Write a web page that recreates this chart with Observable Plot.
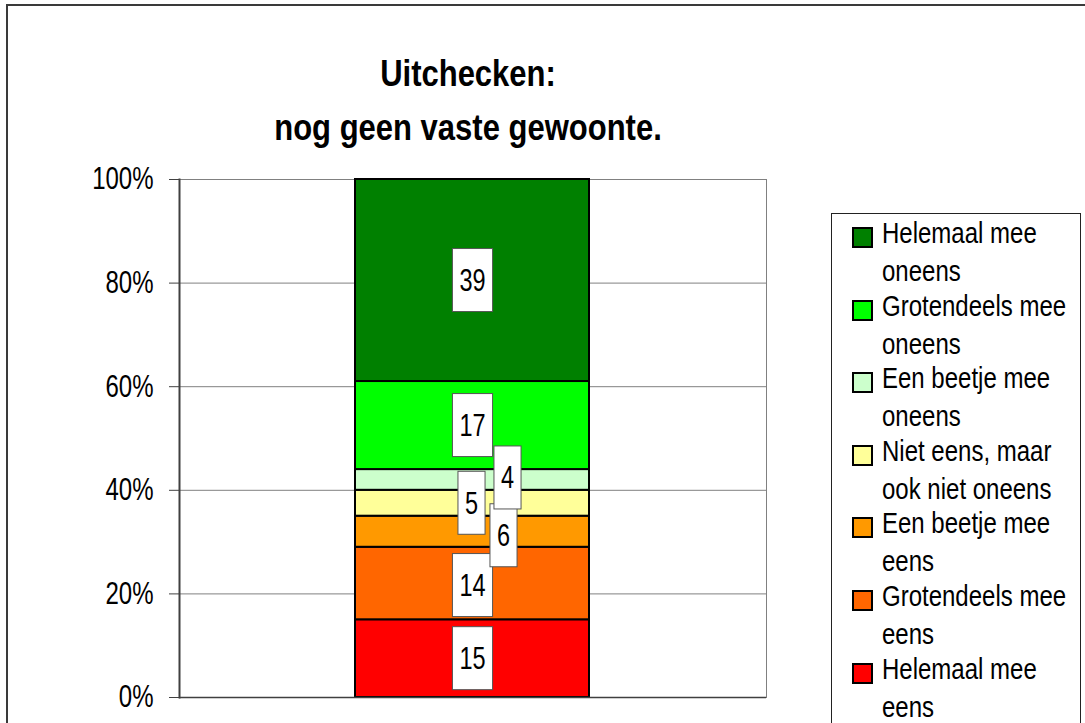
<!DOCTYPE html>
<html><head><meta charset="utf-8">
<script src="https://cdn.jsdelivr.net/npm/d3@7"></script>
<script src="https://cdn.jsdelivr.net/npm/@observablehq/plot@0.6"></script>
<style>
html,body{margin:0;padding:0;background:#fff;overflow:hidden;}
#root{position:relative;width:1085px;height:723px;overflow:hidden;background:#fff;font-family:"Liberation Sans",Arial,sans-serif;color:#000;}
#frame{position:absolute;left:6px;top:4px;width:1200px;height:800px;border:2px solid #3a3a3a;box-sizing:border-box;}
.title{position:absolute;left:0;width:936px;text-align:center;font-weight:bold;font-size:31px;line-height:31px;white-space:nowrap;}
.title span{display:inline-block;transform:scaleY(1.2);}
#chart{position:absolute;left:0;top:140px;}
#legend{position:absolute;left:831px;top:213px;width:250px;height:600px;border:1px solid #222;box-sizing:border-box;background:#fff;}
.entry{position:absolute;left:0;width:248px;height:76px;font-size:24px;line-height:38px;}
.sw{position:absolute;left:20px;top:13px;width:21px;height:21px;border:2px solid #000;box-sizing:border-box;}
.lt{position:absolute;left:50px;top:0;white-space:nowrap;}
.lt div{height:38px;transform:scaleY(1.2);transform-origin:0 19px;}
</style>
</head><body>
<div id="root">
  <div id="frame"></div>
  <div class="title" id="t1" style="top:58px"><span></span></div>
  <div class="title" id="t2" style="top:112px"><span></span></div>
  <div id="chart"></div>
  <div id="legend"></div>
</div>
<script>
// ---- data ----
const titleLines = ["Uitchecken:", "nog geen vaste gewoonte."];
const group = "Uitchecken";
// bottom to top of the stack
const categories = [
  "Helemaal mee eens",
  "Grotendeels mee eens",
  "Een beetje mee eens",
  "Niet eens, maar ook niet oneens",
  "Een beetje mee oneens",
  "Grotendeels mee oneens",
  "Helemaal mee oneens"
];
const values = [15, 14, 6, 5, 4, 17, 39];
const colors = ["#FF0000", "#FF6600", "#FF9900", "#FFFF99", "#CCFFCC", "#00FF00", "#008000"];
const legendLines = [
  ["Helemaal mee", "eens"],
  ["Grotendeels mee", "eens"],
  ["Een beetje mee", "eens"],
  ["Niet eens, maar", "ook niet oneens"],
  ["Een beetje mee", "oneens"],
  ["Grotendeels mee", "oneens"],
  ["Helemaal mee", "oneens"]
];
const yTicks = [0, 20, 40, 60, 80, 100];

// ---- label nudges (style, pixels) ----
const labelNudge = {
  "Een beetje mee eens": [31, 4],
  "Niet eens, maar ook niet oneens": [-1, 0],
  "Een beetje mee oneens": [35, -2],
  "Grotendeels mee eens": [0, 2]
};

const data = categories.map((c, i) => ({cat: c, value: values[i], group}));
const font = '"Liberation Sans",Arial,sans-serif';

document.querySelector("#t1 span").textContent = titleLines[0];
document.querySelector("#t2 span").textContent = titleLines[1];

const plot = Plot.plot({
  width: 800,
  height: 583,
  marginTop: 39,
  marginBottom: 26,
  marginLeft: 179,
  marginRight: 34,
  style: {fontFamily: font, fontSize: "24px", color: "#000", background: "transparent", overflow: "visible"},
  x: {domain: [group], padding: 0.4286, axis: null},
  y: {domain: [0, 100], axis: null},
  color: {domain: categories, range: colors},
  marks: [
    Plot.gridY(yTicks, {stroke: "#808080", strokeOpacity: 1, strokeWidth: 1}),
    Plot.frame({stroke: "#808080", strokeWidth: 1}),
    Plot.barY(data, {x: "group", y: "value", fill: "cat", stroke: "#000", strokeWidth: 2}),
    Plot.ruleY([0], {stroke: "#404040", strokeWidth: 1.5}),
    Plot.frame({anchor: "left", stroke: "#404040", strokeWidth: 2}),
    Plot.axisY(yTicks, {tickFormat: d => d + "%", tickSize: 10, tickPadding: 16, stroke: "#404040", fill: "#000", fontSize: 24, label: null, className: "yax"}),
    Plot.text(data, Plot.stackY({x: "group", y: "value", text: d => String(d.value), fill: "#000", fontSize: 23.5, className: "vlbl"}))
  ]
});
document.getElementById("chart").appendChild(plot);

// vertical stretch of SVG text (the reference text is tall and narrow)
function stretch(t, s) {
  const xa = t.getAttribute("x"), ya = t.getAttribute("y");
  let tx = 0, ty = 0;
  if (xa !== null && isFinite(+xa)) { tx = +xa; t.removeAttribute("x"); }
  if (ya !== null && isFinite(+ya)) { ty = +ya; t.removeAttribute("y"); }
  const tr = t.getAttribute("transform") || "";
  t.setAttribute("transform", `${tr} translate(${tx},${ty}) scale(1,${s})`);
}

// white boxes behind the value labels, plus nudges
const ns = "http://www.w3.org/2000/svg";
const texts = plot.querySelectorAll("g.vlbl text");
texts.forEach((t, i) => {
  const cat = data[i].cat;
  const off = labelNudge[cat] || [0, 0];
  const g = document.createElementNS(ns, "g");
  g.setAttribute("transform", `translate(${off[0]},${off[1]})`);
  t.parentNode.insertBefore(g, t);
  g.appendChild(t);
  const bb = t.getBBox();
  const w = bb.width + 14, h = 63;
  const r = document.createElementNS(ns, "rect");
  r.setAttribute("x", bb.x + bb.width / 2 - w / 2);
  r.setAttribute("y", bb.y + bb.height / 2 - h / 2);
  r.setAttribute("width", w);
  r.setAttribute("height", h);
  r.setAttribute("fill", "#fff");
  r.setAttribute("stroke", "#555");
  r.setAttribute("stroke-width", 1);
  const tr = t.getAttribute("transform");
  if (tr) r.setAttribute("transform", tr);
  g.insertBefore(r, t);
  stretch(t, 1.37);
});
plot.querySelectorAll("g.yax text").forEach(t => stretch(t, 1.28));

// legend (top entry = top of stack)
const legend = document.getElementById("legend");
const order = categories.map((c, i) => i).reverse();
order.forEach((idx, k) => {
  const e = document.createElement("div");
  e.className = "entry";
  e.style.top = (k * 72.6) + "px";
  const sw = document.createElement("div");
  sw.className = "sw";
  sw.style.background = colors[idx];
  const lt = document.createElement("div");
  lt.className = "lt";
  legendLines[idx].forEach(line => {
    const d = document.createElement("div");
    d.textContent = line;
    lt.appendChild(d);
  });
  e.appendChild(sw);
  e.appendChild(lt);
  legend.appendChild(e);
});
</script>
</body></html>
